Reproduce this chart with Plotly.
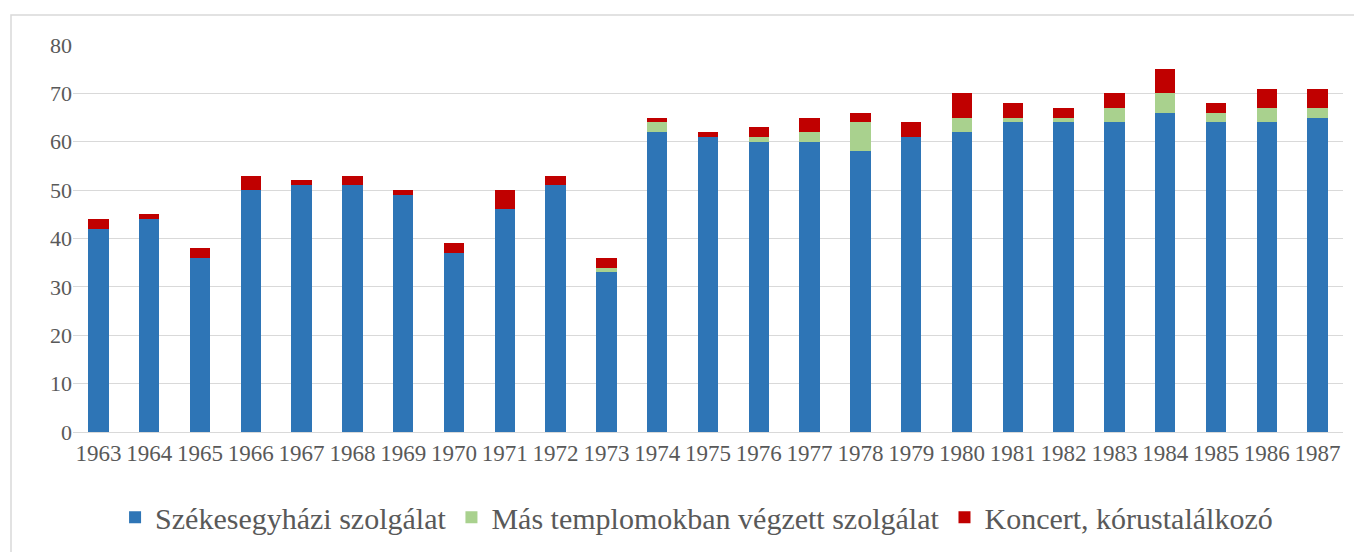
import plotly.graph_objects as go

years = [str(y) for y in range(1963, 1988)]
szekesegyhazi = [42, 44, 36, 50, 51, 51, 49, 37, 46, 51, 33, 62, 61, 60, 60, 58, 61, 62, 64, 64, 64, 66, 64, 64, 65]
mas_templom = [0, 0, 0, 0, 0, 0, 0, 0, 0, 0, 1, 2, 0, 1, 2, 6, 0, 3, 1, 1, 3, 4, 2, 3, 2]
koncert = [2, 1, 2, 3, 1, 2, 1, 2, 4, 2, 2, 1, 1, 2, 3, 2, 3, 5, 3, 2, 3, 5, 2, 4, 4]

names = ["Székesegyházi szolgálat", "Más templomokban végzett szolgálat", "Koncert, kórustalálkozó"]
colors = ["#2E75B6", "#A9D18E", "#C00000"]

fig = go.Figure()
for name, vals, col in zip(names, [szekesegyhazi, mas_templom, koncert], colors):
    fig.add_trace(go.Bar(x=years, y=vals, name=name, marker=dict(color=col, line=dict(width=0))))

font_family = "'Liberation Serif', 'Times New Roman', Times, 'DejaVu Serif', serif"
W, H = 1354, 544
fig.update_layout(
    barmode="stack",
    bargap=0.6,
    width=W, height=H,
    margin=dict(l=65, r=19, t=37, b=120, autoexpand=False),
    paper_bgcolor="white", plot_bgcolor="white",
    font=dict(family=font_family, color="#595959"),
    showlegend=True,
    legend=dict(orientation="h", x=0.491, xanchor="center", y=-0.22, yanchor="middle",
                font=dict(size=30, family=font_family, color="#595959"),
                traceorder="normal", itemwidth=30),
    xaxis=dict(type="category", showgrid=False, showline=True, linecolor="#D9D9D9", linewidth=1,
               ticks="", tickfont=dict(size=23, family=font_family, color="#595959")),
    yaxis=dict(range=[0, 80], dtick=10, showgrid=True, gridcolor="#D9D9D9", gridwidth=1,
               zeroline=False, showline=False, ticks="",
               tickfont=dict(size=22, family=font_family, color="#595959")),
    shapes=[dict(type="rect", xref="paper", yref="paper",
                 x0=(3 - 65) / 1270, x1=(1370 - 65) / 1270,
                 y0=(424 - 560) / 387, y1=(424 - 7) / 387,
                 line=dict(color="#D9D9D9", width=1.5), layer="below")],
)

fig.write_html("out.html")
